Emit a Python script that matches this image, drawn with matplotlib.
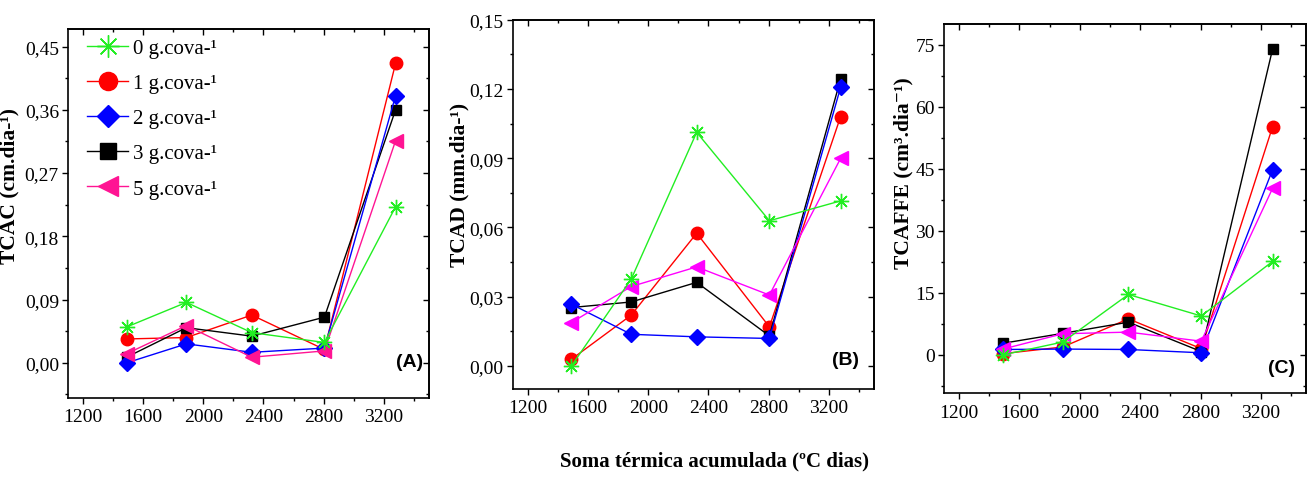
import matplotlib
matplotlib.use("Agg")
import matplotlib.pyplot as plt
from matplotlib.ticker import AutoMinorLocator, FuncFormatter

plt.rcParams['font.family'] = ['Liberation Serif', 'DejaVu Serif']

doses = ["0 g.cova-¹", "1 g.cova-¹", "2 g.cova-¹", "3 g.cova-¹", "5 g.cova-¹"]
soma = [1490, 1887, 2322, 2805, 3278]

# TCAC (cm/dia)
tcac = {
    "0": [0.051, 0.086, 0.043, 0.029, 0.222],
    "1": [0.034, 0.036, 0.068, 0.019, 0.426],
    "2": [0.000, 0.027, 0.015, 0.021, 0.380],
    "3": [0.008, 0.050, 0.038, 0.065, 0.360],
    "5": [0.013, 0.053, 0.008, 0.017, 0.316],
}
# TCAD (mm/dia)
tcad = {
    "0": [0.000, 0.0376, 0.1012, 0.0629, 0.0715],
    "1": [0.0029, 0.022, 0.0575, 0.0169, 0.108],
    "2": [0.0267, 0.0137, 0.0126, 0.0119, 0.1207],
    "3": [0.0253, 0.0277, 0.0362, 0.013, 0.1243],
    "5": [0.0188, 0.0344, 0.0429, 0.0307, 0.0899],
}
# TCAFFE (cm3/dia)
tcaffe = {
    "0": [0.0, 3.1, 14.6, 9.4, 22.6],
    "1": [0.3, 1.9, 8.7, 1.5, 55.2],
    "2": [1.3, 1.4, 1.3, 0.5, 44.8],
    "3": [2.8, 5.2, 7.9, 0.8, 74.0],
    "5": [1.4, 5.1, 5.5, 3.3, 40.3],
}

keys = ["0", "1", "2", "3", "5"]
colors = {"0": "#22ee22", "1": "#ff0000", "2": "#0000ff", "3": "#000000", "5": "#ff1493"}
markers = {"0": (8, 2, 0), "1": "o", "2": "D", "3": "s", "5": "<"}
msizes = {"0": 11, "1": 9, "2": 8, "3": 7.5, "5": 10}
draw_order = ["1", "3", "2", "5", "0"]

fig = plt.figure(figsize=(13.09, 5.02), dpi=100)

panels = [
    dict(data=tcac, rect=[0.0519, 0.2052, 0.2758, 0.735], ylim=(-0.05, 0.475),
         yticks=[0, 0.09, 0.18, 0.27, 0.36, 0.45], fmt="{:.2f}",
         ylabel="TCAC (cm.dia-¹)", lab=(-0.135, 0.576), tag="(A)", tagpos=(0.947, 0.098),
         pink="#ff1493", legend=True),
    dict(data=tcad, rect=[0.3917, 0.2231, 0.276, 0.7357], ylim=(-0.01, 0.15),
         yticks=[0, 0.03, 0.06, 0.09, 0.12, 0.15], fmt="{:.2f}",
         ylabel="TCAD (mm.dia-¹)", lab=(-0.12, 0.555), tag="(B)", tagpos=(0.922, 0.081),
         pink="#ff00ff", legend=False),
    dict(data=tcaffe, rect=[0.7212, 0.2145, 0.2766, 0.7357], ylim=(-9.3, 80),
         yticks=[0, 15, 30, 45, 60, 75], fmt="{:.0f}",
         ylabel="TCAFFE (cm³.dia⁻¹)", lab=(-0.085, 0.598), tag="(C)", tagpos=(0.933, 0.070),
         pink="#ff00ff", legend=False),
]

for p in panels:
    ax = fig.add_axes(p["rect"])
    handles = {}
    for k in draw_order:
        c = p["pink"] if k == "5" else colors[k]
        ln, = ax.plot(soma, p["data"][k], color=c, lw=1.0, marker=markers[k],
                      markersize=msizes[k], markerfacecolor=c, markeredgecolor=c,
                      markeredgewidth=1.0, label=doses[keys.index(k)])
        handles[k] = ln

    ax.set_xlim(1100, 3500)
    ax.set_ylim(*p["ylim"])
    ax.set_xticks([1200, 1600, 2000, 2400, 2800, 3200])
    ax.set_yticks(p["yticks"])
    fmt = p["fmt"]
    ax.yaxis.set_major_formatter(FuncFormatter(lambda v, pos, f=fmt: f.format(v).replace(".", ",")))
    ax.xaxis.set_minor_locator(AutoMinorLocator(2))
    ax.yaxis.set_minor_locator(AutoMinorLocator(2))
    ax.tick_params(which="both", direction="out", labelsize=14, width=1.0)
    ax.tick_params(axis="y", pad=2.5)
    ax.tick_params(which="major", length=4)
    ax.tick_params(which="minor", length=2.5)
    for s in ax.spines.values():
        s.set_linewidth(1.2)

    top = ax.secondary_xaxis("top")
    top.set_xticks([1200, 1600, 2000, 2400, 2800, 3200])
    top.xaxis.set_minor_locator(AutoMinorLocator(2))
    top.tick_params(which="both", direction="in", labeltop=False, width=1.0)
    top.tick_params(which="major", length=4)
    top.tick_params(which="minor", length=2.5)
    top.spines["top"].set_linewidth(1.2)

    right = ax.secondary_yaxis("right")
    right.set_yticks(p["yticks"])
    right.yaxis.set_minor_locator(AutoMinorLocator(2))
    right.tick_params(which="both", direction="in", labelright=False, width=1.0)
    right.tick_params(which="major", length=4)
    right.tick_params(which="minor", length=2.5)
    right.spines["right"].set_linewidth(1.2)

    ax.set_ylabel(p["ylabel"], fontsize=15.5, fontweight="bold")
    ax.yaxis.set_label_coords(*p["lab"])
    ax.text(p["tagpos"][0], p["tagpos"][1], p["tag"], transform=ax.transAxes,
            ha="center", va="center", fontsize=14, fontweight="bold",
            family=["Liberation Sans", "DejaVu Sans"])

    if p["legend"]:
        ax.legend([handles[k] for k in keys], doses, loc="upper left",
                  bbox_to_anchor=(0.052, 0.975), frameon=False, fontsize=15,
                  markerscale=1.45, handlelength=2.0, handletextpad=0.2,
                  labelspacing=0.75, borderpad=0, borderaxespad=0)

fig.text(0.546, 0.08, "Soma térmica acumulada (ºC dias)", ha="center", va="center",
         fontsize=15, fontweight="bold")

fig.savefig("out.png", dpi=100)
